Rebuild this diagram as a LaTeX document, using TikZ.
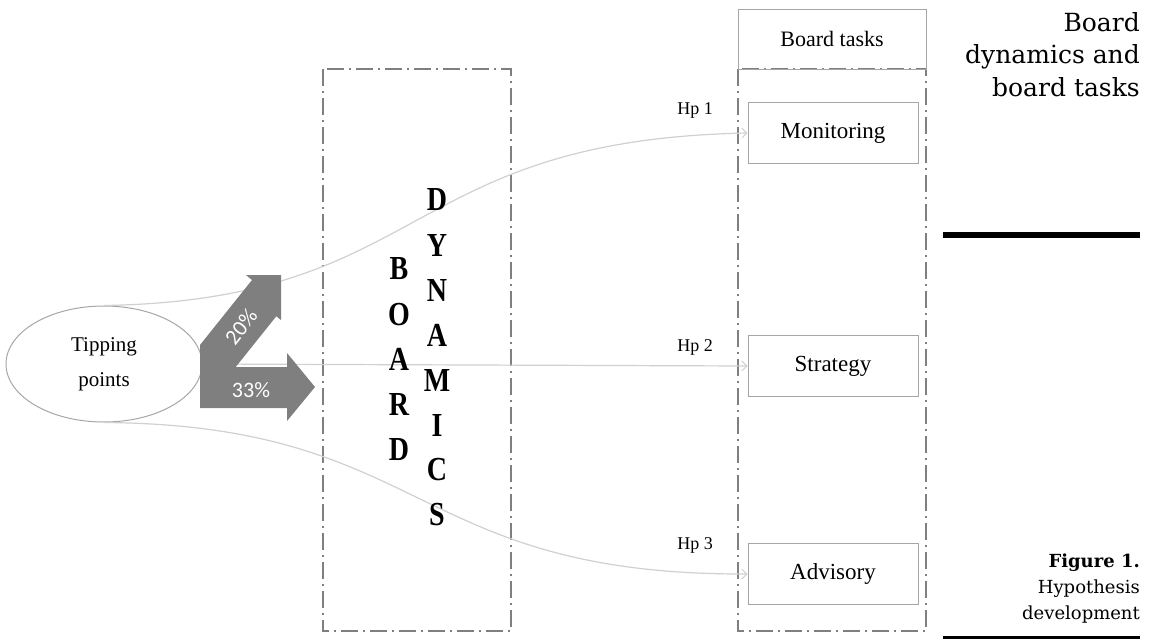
\documentclass[tikz,border=0pt]{standalone}
\usepackage{fontspec}
\setmainfont{Liberation Serif}
\newfontfamily\capfont{DejaVu Serif}
\newfontfamily\pctfont{Carlito}
\usetikzlibrary{arrows.meta,shapes.geometric}
\definecolor{boxgray}{HTML}{A6A6A6}
\definecolor{dashgray}{HTML}{7F7F7F}
\definecolor{linegray}{HTML}{D0D0D0}
\definecolor{arrowgray}{HTML}{7F7F7F}
\tikzset{
  dashbox/.style={draw=dashgray, line width=1.5pt, dash pattern=on 17pt off 5pt on 2pt off 5pt},
  taskbox/.style={draw=boxgray, line width=1pt, minimum width=170pt, minimum height=61pt, inner sep=0pt, font=\fontsize{23}{26}\selectfont},
  hplabel/.style={font=\fontsize{18}{20}\selectfont, inner sep=0pt},
  conn/.style={draw=linegray, line width=1.2pt, -{Straight Barb[length=5pt,width=10pt,line width=1pt]}},
  bigletter/.style={font=\fontsize{28}{30}\selectfont\bfseries, inner sep=0pt},
  pct/.style={text=white, font=\pctfont\fontsize{22}{24}\selectfont, inner sep=0pt},
}
\begin{document}
\begin{tikzpicture}[x=1pt,y=-1pt]
\useasboundingbox (0,0) rectangle (1155,640);
% dash-dot frames
\draw[dashbox] (323,69) rectangle (511,631);
\draw[dashbox] (738,69) rectangle (926,631);
% board tasks header
\node[draw=boxgray, line width=1pt, minimum width=188pt, minimum height=60pt, inner sep=0pt, font=\fontsize{22}{26}\selectfont] (bt) at (832,39) {Board tasks};
% task boxes
\node[taskbox] (mon) at (833,133) {Monitoring};
\node[taskbox] (str) at (833,366) {Strategy};
\node[taskbox] (adv) at (833,574) {Advisory};
% hypothesis labels
\node[hplabel] (hp1) at (695,110) {Hp 1};
\node[hplabel] (hp2) at (695,347) {Hp 2};
\node[hplabel] (hp3) at (695,545) {Hp 3};
% tipping points
\node[draw=boxgray, line width=1pt, ellipse, minimum width=196pt, minimum height=116pt, inner sep=0pt, align=center, font=\fontsize{21}{35}\selectfont] (tp) at (104,364) {\raisebox{-4pt}{Tipping}\\\raisebox{-4pt}{points}};
% connectors
\draw[conn] (tp.north) .. controls (430,300) and (400,140) .. (mon.west);
\draw[conn] (tp.east) -- (str.west);
\draw[conn] (tp.south) .. controls (430,425) and (410,575) .. (adv.west);
% block arrows
\fill[arrowgray] (200,408) -- (287,408) -- (287,421) -- (315,387) -- (287,353) -- (287,367)
  -- (235.7,367) -- (276.3,316.3) -- (281,320) -- (281,275) -- (246,275) -- (252,280) -- (200,345) -- cycle;
\node[pct, rotate=52] (p20) at (241,327) {20\%};
\node[pct] (p33) at (251,390) {33\%};
% BOARD DYNAMICS
\foreach \l [count=\i] in {B,O,A,R,D}
  \node[bigletter] (bl\i) at (399,{269+45.25*(\i-1)}) {\scalebox{1}[1.2]{\l}};
\foreach \l [count=\i] in {D,Y,N,A,M,I,C,S}
  \node[bigletter] (dl\i) at (437,{200+45*(\i-1)}) {\scalebox{1}[1.2]{\l}};
% right margin title and caption
\node[anchor=north east, align=right, inner sep=0pt, font=\capfont\fontsize{25}{32.5}\selectfont] (title) at (1140,12) {Board\\dynamics and\\board tasks};
\draw[line width=6pt] (943,235) -- (1140,235);
\node[anchor=north east, align=right, inner sep=0pt, font=\capfont\fontsize{18}{26}\selectfont] (cap) at (1140,554) {\textbf{Figure 1.}\\Hypothesis\\development};
\draw[line width=3pt] (943,637) -- (1140,637);
\end{tikzpicture}
\end{document}
